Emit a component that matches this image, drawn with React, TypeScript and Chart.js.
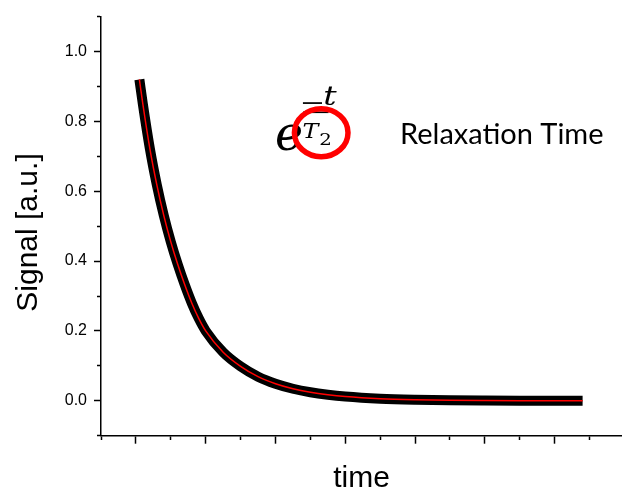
import React, { useEffect, useRef } from "react";
import { Chart, registerables } from "chart.js";

Chart.register(...registerables);

// ---- data ----
const timeValues = [0.05, 0.1, 0.2, 0.3, 0.4, 0.5, 0.6, 0.7, 0.8, 0.9, 1.0, 1.25, 1.5, 1.75, 2.0, 2.25, 2.5, 2.75, 3.0, 3.5, 4.0, 4.5, 5.0, 5.5, 6.0, 6.4];
const signalValues = [0.92, 0.849, 0.722, 0.618, 0.53, 0.455, 0.39, 0.332, 0.28, 0.236, 0.2, 0.139, 0.0985, 0.069, 0.0487, 0.0344, 0.0243, 0.0172, 0.0121, 0.006, 0.003, 0.0015, 0.0008, 0.0004, 0.0002, 0.0001];

const yMajorTicks = [0, 0.2, 0.4, 0.6, 0.8, 1.0];
const yTickLabels = ["0.0", "0.2", "0.4", "0.6", "0.8", "1.0"];
const yMinorTicks = [-0.1, 0.1, 0.3, 0.5, 0.7, 0.9, 1.1];
const xMajorTicks = [0, 1, 2, 3, 4, 5, 6];
const xMinorTicks = [-0.5, 0.5, 1.5, 2.5, 3.5, 4.5, 5.5, 6.5];

const xTitle = "time";
const yTitle = "Signal [a.u.]";
const mathBase = "e";
const mathMinus = "\u2212";
const mathNumerator = "t";
const mathDenominator = "T";
const mathSubscript = "2";
const annotationText = "Relaxation Time";

const near = (arr: number[], v: number) => arr.some((a) => Math.abs(a - v) < 1e-9);

// draw a glyph so that its ink box fits left / top / bottom (uniform scale)
function drawFitHeight(
  ctx: CanvasRenderingContext2D,
  text: string,
  font: (s: number) => string,
  left: number,
  top: number,
  bottom: number
) {
  ctx.font = font(100);
  let m = ctx.measureText(text);
  const h = m.actualBoundingBoxAscent + m.actualBoundingBoxDescent;
  const size = (100 * (bottom - top)) / (h || 1);
  ctx.font = font(size);
  m = ctx.measureText(text);
  ctx.fillText(text, left + m.actualBoundingBoxLeft, bottom - m.actualBoundingBoxDescent);
}

// draw a glyph so that its ink box fills a rectangle (non-uniform scale)
function drawFitBox(
  ctx: CanvasRenderingContext2D,
  text: string,
  font: (s: number) => string,
  left: number,
  right: number,
  top: number,
  bottom: number
) {
  ctx.font = font(100);
  const m = ctx.measureText(text);
  const h = m.actualBoundingBoxAscent + m.actualBoundingBoxDescent || 1;
  const w = m.actualBoundingBoxLeft + m.actualBoundingBoxRight || 1;
  const sx = (right - left) / w;
  const sy = (bottom - top) / h;
  ctx.save();
  ctx.translate(left, bottom);
  ctx.scale(sx, sy);
  ctx.fillText(text, m.actualBoundingBoxLeft, -m.actualBoundingBoxDescent);
  ctx.restore();
}

const overlayPlugin = {
  id: "overlayText",
  afterDraw(chart: any) {
    const ctx = chart.ctx as CanvasRenderingContext2D;
    ctx.save();
    ctx.fillStyle = "#000";
    ctx.textBaseline = "alphabetic";

    // axis titles
    ctx.textAlign = "center";
    ctx.font = '30px "Liberation Sans", Arial, sans-serif';
    ctx.fillText(xTitle, 361.5, 486.5);
    ctx.save();
    ctx.translate(36.5, 232.5);
    ctx.rotate(-Math.PI / 2);
    ctx.fillText(yTitle, 0, 0);
    ctx.restore();

    // formula e^(-t/T2)
    ctx.textAlign = "left";
    const serifItalic = (s: number) => `italic ${s}px "DejaVu Serif", serif`;
    const serif = (s: number) => `${s}px "DejaVu Serif", serif`;
    drawFitHeight(ctx, mathBase, serifItalic, 277, 125, 150.7);
    drawFitBox(ctx, mathMinus, serif, 303, 322.5, 102.3, 104.3);
    drawFitBox(ctx, mathNumerator, serifItalic, 325, 337, 88, 105.5);
    ctx.strokeStyle = "#000";
    ctx.lineWidth = 1.6;
    ctx.beginPath();
    ctx.moveTo(303, 112.3);
    ctx.lineTo(328.5, 112.3);
    ctx.stroke();
    drawFitBox(ctx, mathDenominator, serifItalic, 303.5, 320, 123, 138.3);
    drawFitBox(ctx, mathSubscript, serif, 320.5, 330, 132.7, 145);

    // red circle
    ctx.strokeStyle = "#ff0000";
    ctx.lineWidth = 5.5;
    ctx.beginPath();
    ctx.ellipse(321.2, 132.7, 26.8, 24, 0, 0, Math.PI * 2);
    ctx.stroke();

    // annotation
    ctx.fillStyle = "#000";
    ctx.font = "29px Lato, sans-serif";
    ctx.fillText(annotationText, 400, 144);
    ctx.restore();
  },
};

export default function App() {
  const canvasRef = useRef<HTMLCanvasElement | null>(null);

  useEffect(() => {
    if (!canvasRef.current) return;
    const points = timeValues.map((x, i) => ({ x, y: signalValues[i] }));
    const chart = new Chart(canvasRef.current, {
      type: "line",
      data: {
        datasets: [
          {
            data: points,
            borderColor: "#ff0000",
            borderWidth: 1.5,
            pointRadius: 0,
            fill: false,
            cubicInterpolationMode: "monotone",
          },
          {
            data: points,
            borderColor: "#000000",
            borderWidth: 10,
            pointRadius: 0,
            fill: false,
            cubicInterpolationMode: "monotone",
          },
        ],
      },
      options: {
        animation: false,
        responsive: false,
        maintainAspectRatio: false,
        devicePixelRatio: 1,
        layout: { padding: { left: 0, right: 2, top: 12.4, bottom: 0 } },
        plugins: {
          legend: { display: false },
          tooltip: { enabled: false },
          title: { display: false },
        },
        scales: {
          x: {
            type: "linear",
            bounds: "data",
            min: -0.5,
            max: 6.95,
            afterBuildTicks: (scale: any) => {
              scale.ticks = [...xMajorTicks, ...xMinorTicks]
                .sort((a, b) => a - b)
                .map((v) => ({ value: v }));
            },
            afterFit: (scale: any) => {
              scale.height = 56.3;
            },
            border: { display: true, color: "#000", width: 1.5 },
            grid: {
              drawOnChartArea: false,
              drawTicks: true,
              tickLength: 8,
              tickColor: "#000",
              tickWidth: 1.5,
              tickBorderDash: (c: any) =>
                c.tick && near(xMinorTicks, c.tick.value) ? [3.5, 20] : [],
            },
            ticks: {
              callback: () => "",
              padding: 0,
              font: { size: 1 },
            },
          },
          y: {
            type: "linear",
            bounds: "data",
            min: -0.1,
            max: 1.1,
            afterBuildTicks: (scale: any) => {
              scale.ticks = [...yMajorTicks, ...yMinorTicks]
                .sort((a, b) => a - b)
                .map((v) => ({ value: v }));
            },
            afterFit: (scale: any) => {
              scale.width = 101;
            },
            border: { display: true, color: "#000", width: 1.5 },
            grid: {
              drawOnChartArea: false,
              drawTicks: true,
              tickLength: 7,
              tickColor: "#000",
              tickWidth: 1.5,
              tickBorderDash: (c: any) =>
                c.tick && near(yMinorTicks, c.tick.value) ? [3, 3] : [],
              tickBorderDashOffset: (c: any) =>
                c.tick && near(yMinorTicks, c.tick.value) ? 3 : 0,
            },
            ticks: {
              padding: 7,
              color: "#000",
              font: { family: '"Liberation Sans", Arial, sans-serif', size: 16 },
              callback: (value: any) => {
                const idx = yMajorTicks.findIndex((t) => Math.abs(t - Number(value)) < 1e-9);
                return idx >= 0 ? yTickLabels[idx] : "";
              },
            },
          },
        },
      },
      plugins: [overlayPlugin],
    } as any);
    return () => chart.destroy();
  }, []);

  return (
    <div style={{ position: "absolute", left: 0, top: 0, width: 623, height: 492, background: "#fff" }}>
      <canvas ref={canvasRef} width={623} height={492} style={{ display: "block" }} />
    </div>
  );
}
